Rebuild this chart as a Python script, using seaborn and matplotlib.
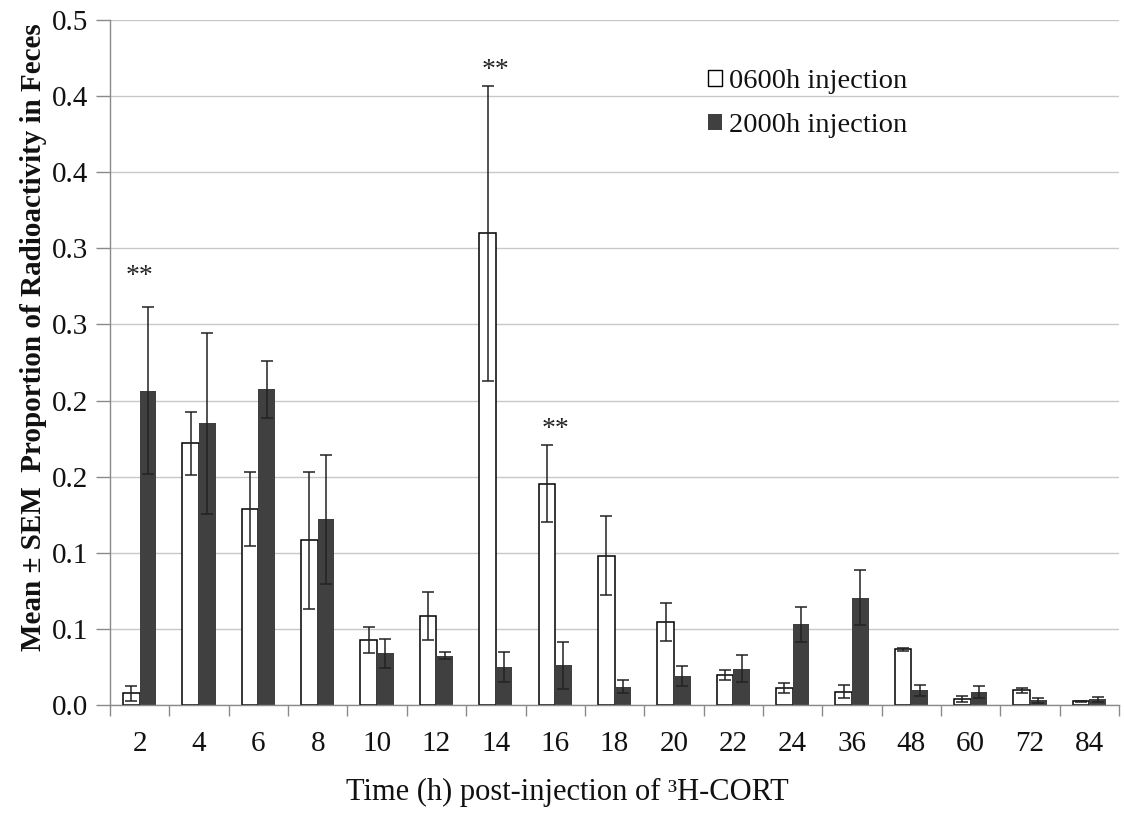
import numpy as np
import pandas as pd
import matplotlib
matplotlib.use("Agg")
import matplotlib.pyplot as plt
from matplotlib.patches import Patch
from matplotlib.ticker import FixedLocator, FuncFormatter
import seaborn as sns

# Sampling times (h) after 3H-CORT injection
times = ["2", "4", "6", "8", "10", "12", "14", "16", "18", "20", "22",
         "24", "36", "48", "60", "72", "84"]

# 0600h injection group: mean and SEM
am_mean = [0.0085, 0.191, 0.1433, 0.1204, 0.0474, 0.065, 0.3443, 0.1615, 0.109,
           0.0606, 0.0219, 0.0124, 0.0097, 0.0406, 0.0044, 0.0107, 0.0027]
am_sem = [0.0055, 0.023, 0.027, 0.050, 0.0096, 0.0175, 0.1075, 0.028, 0.029,
          0.014, 0.0037, 0.004, 0.0048, 0.0013, 0.002, 0.0017, 0.0005]

# 2000h injection group: mean and SEM
pm_mean = [0.2294, 0.2056, 0.2304, 0.1355, 0.0377, 0.036, 0.028, 0.029, 0.0134,
           0.0212, 0.0265, 0.0589, 0.0783, 0.0107, 0.0095, 0.0034, 0.0042]
pm_sem = [0.061, 0.066, 0.021, 0.047, 0.0108, 0.0025, 0.011, 0.017, 0.0045,
          0.0073, 0.0097, 0.013, 0.020, 0.004, 0.0045, 0.0016, 0.0018]

groups = ["0600h injection", "2000h injection"]

# Significant differences between groups
sig_times = ["2", "14", "16"]
sig_y = [0.313, 0.463, 0.201]

sns.set_theme(style="white")
plt.rcParams["font.family"] = ["Liberation Serif", "DejaVu Serif"]

df = pd.DataFrame({
    "time": times * 2,
    "value": am_mean + pm_mean,
    "sem": am_sem + pm_sem,
    "group": [groups[0]] * len(times) + [groups[1]] * len(times),
})

fig = plt.figure(figsize=(11.25, 8.14), dpi=100)
ax = fig.add_axes([0.0978, 0.1339, 0.8969, 0.8415])

dark = "#404040"
sns.barplot(data=df, x="time", y="value", hue="group", order=times,
            hue_order=groups, palette=["white", dark], width=0.56,
            errorbar=None, legend=False, ax=ax, saturation=1)

# Outline the open bars; errors from each container's bar centres
for i, (cont, means, sems) in enumerate(zip(ax.containers, [am_mean, pm_mean],
                                             [am_sem, pm_sem])):
    xs = [bar.get_x() + bar.get_width() / 2 for bar in cont]
    for bar in cont:
        if i == 0:
            bar.set_edgecolor("black")
            bar.set_linewidth(1.1)
        else:
            bar.set_edgecolor("none")
    ax.errorbar(xs, means, yerr=sems, fmt="none", ecolor="#222222",
                elinewidth=1.1, capsize=4, capthick=1.1, zorder=5)

# Significance markers
for t, y in zip(sig_times, sig_y):
    ax.text(times.index(t), y, "**", ha="center", va="center", fontsize=20,
            color="#222222")

ymax = 0.5
yt = np.linspace(0, ymax, 10)
ax.set_ylim(0, ymax)
ax.yaxis.set_major_locator(FixedLocator(yt))
ax.yaxis.set_major_formatter(FuncFormatter(lambda v, p: f"{v:.1f}"))
ax.set_xlim(-0.5, len(times) - 0.5)

ax.grid(axis="y", color="#c8c8c8", linewidth=1.0)
ax.set_axisbelow(True)
for side in ["top", "right"]:
    ax.spines[side].set_visible(False)
for side in ["left", "bottom"]:
    ax.spines[side].set_color("#8a8a8a")
    ax.spines[side].set_linewidth(1.0)

# Category-boundary tick marks on x, labels centred between them
ax.set_xticks(np.arange(-0.5, len(times)), minor=True)
ax.tick_params(axis="x", which="minor", length=8, width=1.0, color="#8a8a8a",
               direction="out", bottom=True)
ax.tick_params(axis="x", which="major", length=0, pad=19, labelsize=21,
               labelcolor="#111111")
ax.tick_params(axis="y", which="major", length=10, width=1.0, color="#8a8a8a",
               direction="out", pad=6, labelsize=21, labelcolor="#111111",
               left=True)

ax.set_xlabel("Time (h) post-injection of \u00b3H-CORT", fontsize=22,
              color="#111111")
ax.xaxis.set_label_coords(0.453, -0.107)
ax.set_ylabel("Mean \u00b1 SEM  Proportion of Radioactivity in Feces",
              fontsize=21, fontweight="bold", color="#111111")
ax.yaxis.set_label_coords(-0.062, 0.537)

handles = [Patch(facecolor="white", edgecolor="black", linewidth=1.0),
           Patch(facecolor=dark, edgecolor="none")]
ax.legend(handles, groups, loc="upper left", bbox_to_anchor=(0.5927, 0.928),
          frameon=False, fontsize=20.5, handlelength=0.5, handleheight=0.5,
          handletextpad=0.25, labelspacing=0.65, borderpad=0,
          borderaxespad=0, labelcolor="#111111")

fig.savefig("out.png", dpi=100, facecolor="white")
